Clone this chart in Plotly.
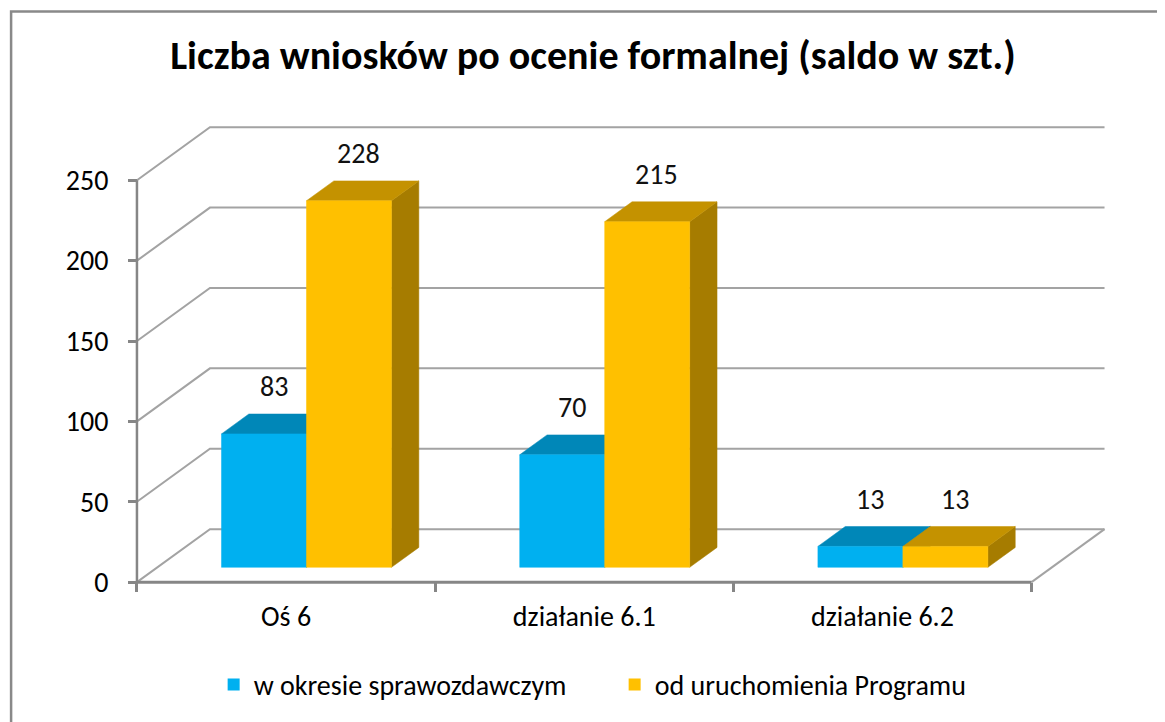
import plotly.graph_objects as go

# ---- data ----
categories = ["Oś 6", "działanie 6.1", "działanie 6.2"]
series_names = ["w okresie sprawozdawczym", "od uruchomienia Programu"]
values_period = [83, 70, 13]
values_total = [228, 215, 13]
y_ticks = [0, 50, 100, 150, 200, 250]
title_text = "Liczba wniosków po ocenie formalnej (saldo w szt.)"

# ---- style / projection constants ----
FONT = "Carlito, Calibri, Lato, sans-serif"
DX = 0.2447      # depth offset in x units (full wall depth)
DY = 33.0        # depth offset in y units
ZF = 0.28        # bar front plane depth fraction
ZB = 0.655       # bar back plane depth fraction
BW = 0.285       # bar width in category units
GRID = "#A3A3A3"
AXIS = "#868686"
front_col = ["#00B0F0", "#FFC000"]
top_col = ["#0087B8", "#C49200"]
side_col = ["#006E99", "#A67C00"]

n = len(categories)
fig = go.Figure()

# gridlines (left wall diagonal + back wall) and floor edge
gx, gy = [], []
for v in y_ticks:
    gx += [-0.5, -0.5 + DX, (n - 0.5) + DX, None]
    gy += [v, v + DY, v + DY, None]
gx += [n - 0.5, n - 0.5 + DX, None]
gy += [0, DY, None]
fig.add_trace(go.Scatter(x=gx, y=gy, mode="lines", line=dict(color=GRID, width=2),
                         showlegend=False, hoverinfo="skip"))

series_vals = [values_period, values_total]
offsets = [-BW / 2, BW / 2]


def poly(xs, ys, color):
    fig.add_trace(go.Scatter(x=xs + [xs[0]], y=ys + [ys[0]], fill="toself", fillcolor=color,
                             mode="lines", line=dict(width=0.5, color=color),
                             showlegend=False, hoverinfo="skip"))


for i in range(n):
    for s, vals in enumerate(series_vals):
        v = vals[i]
        xc = i + offsets[s]
        xl, xr = xc - BW / 2, xc + BW / 2
        # right side face
        poly([xr + ZF * DX, xr + ZB * DX, xr + ZB * DX, xr + ZF * DX],
             [ZF * DY, ZB * DY, v + ZB * DY, v + ZF * DY], side_col[s])
        # top face
        poly([xl + ZF * DX, xr + ZF * DX, xr + ZB * DX, xl + ZB * DX],
             [v + ZF * DY, v + ZF * DY, v + ZB * DY, v + ZB * DY], top_col[s])
        # front face
        poly([xl + ZF * DX, xr + ZF * DX, xr + ZF * DX, xl + ZF * DX],
             [ZF * DY, ZF * DY, v + ZF * DY, v + ZF * DY], front_col[s])

# legend entries for the two series
for s in range(2):
    fig.add_trace(go.Bar(x=[None], y=[None], name=series_names[s],
                         marker=dict(color=front_col[s], line=dict(width=0))))

# front axis lines
fig.add_trace(go.Scatter(x=[-0.5, -0.5], y=[0, max(y_ticks)], mode="lines",
                         line=dict(color=AXIS, width=2.5), showlegend=False, hoverinfo="skip"))
fig.add_trace(go.Scatter(x=[-0.5, n - 0.5], y=[0, 0], mode="lines",
                         line=dict(color=AXIS, width=3), showlegend=False, hoverinfo="skip"))

# data labels
for s, vals in enumerate(series_vals):
    for i, v in enumerate(vals):
        fig.add_annotation(x=i + offsets[s] + (ZF + 0.35 * (ZB - ZF)) * DX, y=v + ZB * DY,
                           text=str(v), showarrow=False, yshift=27, yanchor="middle",
                           font=dict(family=FONT, size=28, color="#111111"))

# outer frame (cut off at right/bottom)
fig.add_shape(type="rect", xref="paper", yref="paper",
              x0=-0.1226, x1=1.5, y0=-1.0, y1=1.2432,
              line=dict(color="#898989", width=2.5), fillcolor="rgba(0,0,0,0)", layer="below")

fig.update_layout(
    width=1157, height=714,
    margin=dict(l=123, r=55.5, t=116, b=133.16),
    paper_bgcolor="white", plot_bgcolor="white",
    barmode="overlay",
    title=dict(text=title_text, x=0.5056, xanchor="center", y=1 - 47 / 714, yanchor="middle",
               yref="container", font=dict(family=FONT, size=40, color="#000000", weight="bold")),
    showlegend=True,
    legend=dict(orientation="h", x=0.0845, xanchor="left", y=-0.2112, yanchor="middle",
                entrywidth=356, entrywidthmode="pixels",
                font=dict(family=FONT, size=28, color="#000000"), bgcolor="rgba(0,0,0,0)",
                itemclick=False, itemdoubleclick=False),
    font=dict(family=FONT),
)

fig.update_xaxes(type="linear", range=[-0.52, n - 0.5 + DX + 0.015], anchor="free", position=0.01042,
                 tickmode="array", tickvals=list(range(n)), ticktext=categories,
                 ticks="", showline=False, showgrid=False, zeroline=False,
                 tickfont=dict(family=FONT, size=28, color="#000000"), ticklabelstandoff=15,
                 minor=dict(tickmode="array", tickvals=[k - 0.5 for k in range(n + 1)],
                            ticks="outside", ticklen=9, tickwidth=2.5, tickcolor=AXIS, showgrid=False))
fig.update_yaxes(range=[-3, max(y_ticks) + DY + 2], anchor="free", position=0.00613,
                 tickmode="array", tickvals=y_ticks, ticks="outside", ticklen=9, tickwidth=2.5,
                 tickcolor=AXIS, showline=False, showgrid=False, zeroline=False,
                 tickfont=dict(family=FONT, size=28, color="#000000"), ticklabelstandoff=14)

fig.write_html("out.html")
